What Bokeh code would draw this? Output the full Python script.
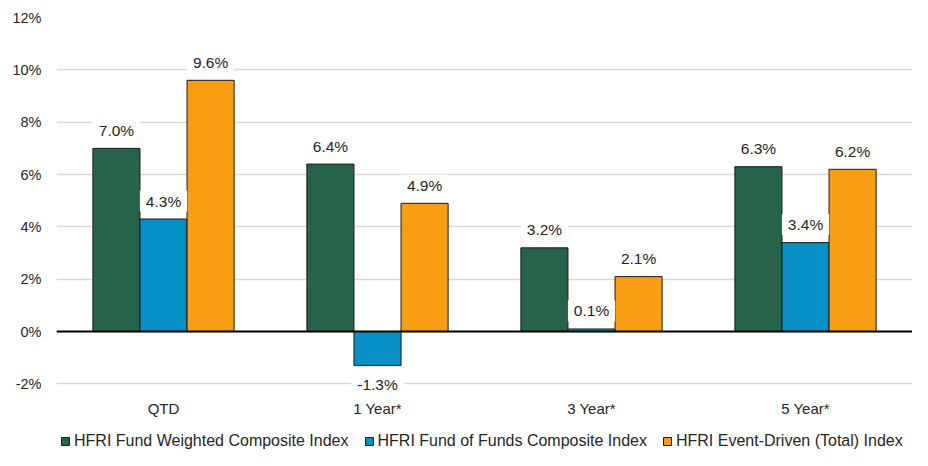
from bokeh.plotting import figure
from bokeh.layouts import column
from bokeh.models import (Range1d, FactorRange, Span, Legend, LegendItem, ColumnDataSource,
                          FixedTicker, PrintfTickFormatter)
from bokeh.transform import dodge
from bokeh.core.properties import value
from bokeh.embed import file_html
from bokeh.resources import INLINE

categories = ["QTD", "1 Year*", "3 Year*", "5 Year*"]
series_names = ["HFRI Fund Weighted Composite Index",
                "HFRI Fund of Funds Composite Index",
                "HFRI Event-Driven (Total) Index"]
fund_weighted = [7.0, 6.4, 3.2, 6.3]
fund_of_funds = [4.3, -1.3, 0.1, 3.4]
event_driven = [9.6, 4.9, 2.1, 6.2]
y_ticks = [-2, 0, 2, 4, 6, 8, 10, 12]

colors = ["#27634a", "#0790c7", "#f99d13"]
offsets = [-0.22, 0.0, 0.22]
series_values = [fund_weighted, fund_of_funds, event_driven]
FONT = "Liberation Sans"

p = figure(width=912, height=420, output_backend="svg", toolbar_location=None,
           x_range=FactorRange(*categories), y_range=Range1d(-2.48, 12),
           min_border_left=56, min_border_right=0, min_border_top=17, min_border_bottom=24)
p.outline_line_color = None
p.background_fill_color = "white"

renderers = []
for name, vals, col, off in zip(series_names, series_values, colors, offsets):
    src = ColumnDataSource(dict(
        cat=categories, val=vals,
        label=[f"{v:.1f}%" for v in vals],
        yoff=[-18 if v >= 0 else 19 for v in vals]))
    r = p.vbar(x=dodge("cat", off, range=p.x_range), top="val", bottom=0, width=0.22,
               source=src, fill_color=col, line_color="#1a1a1a", line_width=1)
    renderers.append((name, r, src, off))

p.add_layout(Span(location=0, dimension="width", line_color="black", line_width=2))

for name, r, src, off in renderers:
    p.text(x=dodge("cat", off, range=p.x_range), y="val", text="label", source=src,
           y_offset="yoff", text_align="center", text_baseline="middle",
           text_font=value(FONT), text_font_size="15.5px", text_color="#262626",
           background_fill_color="white", padding=dict(left=6, right=6, top=2, bottom=2))

p.yaxis.ticker = FixedTicker(ticks=y_ticks)
p.yaxis.formatter = PrintfTickFormatter(format="%d%%")
for ax in (p.xaxis, p.yaxis):
    ax.axis_line_color = None
    ax.major_tick_line_color = None
    ax.minor_tick_line_color = None
    ax.major_tick_out = 0
    ax.major_tick_in = 0
    ax.major_label_text_font = FONT
    ax.major_label_text_color = "#262626"
p.yaxis.major_label_text_font_size = "14.5px"
p.yaxis.major_label_standoff = 15
p.xaxis.major_label_text_font_size = "15px"
p.xaxis.major_label_standoff = 3

p.xgrid.grid_line_color = None
p.ygrid.grid_line_color = "#d9d9d9"
p.ygrid.grid_line_width = 1.5

# Legend strip below the chart
lg = figure(width=912, height=30, output_backend="svg", toolbar_location=None,
            x_range=Range1d(0, 1), y_range=Range1d(0, 1),
            x_axis_location=None, y_axis_location=None,
            min_border_left=0, min_border_right=0, min_border_top=0, min_border_bottom=0)
lg.grid.visible = False
lg.outline_line_color = None
items = []
for name, col in zip(series_names, colors):
    rr = lg.vbar(x=[10], top=[1], bottom=0, width=0.1, fill_color=col,
                 line_color="#1a1a1a", line_width=1)
    items.append(LegendItem(label=name, renderers=[rr]))

legend = Legend(items=items, orientation="horizontal", location=(4, 0),
                padding=0, spacing=15, label_standoff=4, glyph_width=10, glyph_height=10,
                label_text_font=FONT, label_text_font_size="16px", label_text_color="#262626",
                border_line_color=None, background_fill_alpha=0, margin=0)
lg.add_layout(legend, "center")

layout = column(p, lg, spacing=0)
open("out.html", "w").write(file_html(layout, INLINE))
